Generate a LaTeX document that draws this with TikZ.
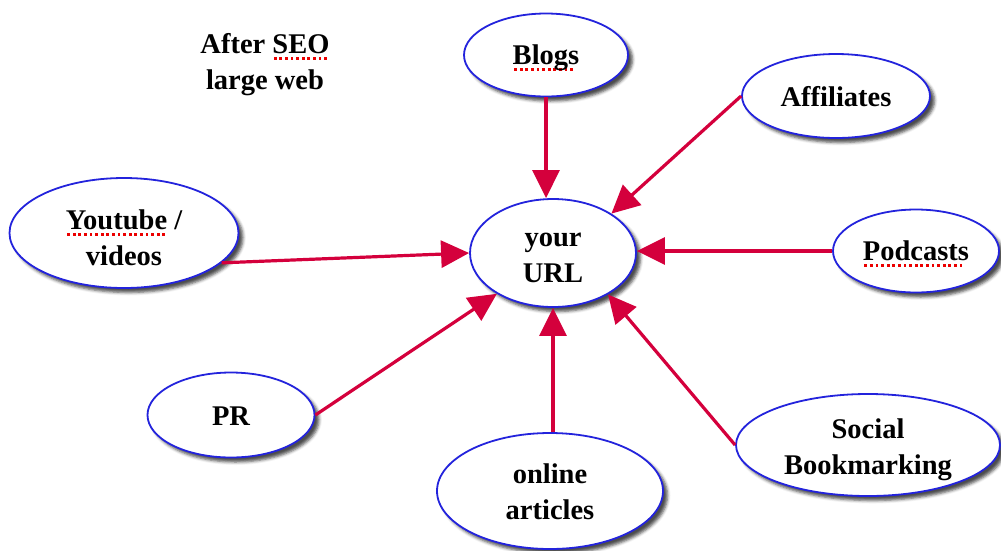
\documentclass[tikz,border=0pt]{standalone}
\usepackage{fontspec}
\setmainfont{Liberation Serif}
\usetikzlibrary{shapes.geometric,arrows.meta,shadows.blur}

\definecolor{rimblue}{RGB}{35,35,220}
\definecolor{linkred}{RGB}{212,0,60}
\definecolor{spellred}{RGB}{235,0,0}

% red dotted "spell check" underline beneath a word
\newcommand\spellmark[1]{\setbox0=\hbox{#1}\leavevmode
  \rlap{\raisebox{-6pt}{\textcolor{spellred}{\hbox to\wd0{\leaders\hbox to 5.6pt{\hss\vrule width 2.8pt height 2.8pt\hss}\hfill}}}}\box0\relax}

\begin{document}
\begin{tikzpicture}[x=1pt,y=-1pt,
  caption/.style={font=\bfseries\fontsize{28.5}{36}\selectfont, align=center, inner sep=0pt},
  bubble/.style={ellipse, draw=rimblue, line width=1.8pt, fill=white, inner sep=0pt,
    blur shadow={shadow xshift=4.5pt, shadow yshift=-4.5pt, shadow blur radius=3pt, shadow opacity=70}},
  link/.style={draw=linkred, line width=3.2pt, -{Triangle[length=28pt,width=27pt]}}
]
\useasboundingbox (0,0) rectangle (1001,550);

\node[caption] (title) at (265,65) {After \spellmark{SEO}\\large web};

% the bubbles
\node[bubble, minimum width=164pt, minimum height=83pt]  (blogs) at (546,55)  {};
\node[bubble, minimum width=188pt, minimum height=84pt]  (aff)   at (836,96)  {};
\node[bubble, minimum width=166pt, minimum height=108pt] (url)   at (553,253) {};
\node[bubble, minimum width=229pt, minimum height=110pt] (yt)    at (124,233) {};
\node[bubble, minimum width=166pt, minimum height=83pt]  (pod)   at (916,251) {};
\node[bubble, minimum width=167pt, minimum height=85pt]  (pr)    at (231,415) {};
\node[bubble, minimum width=226pt, minimum height=116pt] (art)   at (550,491) {};
\node[bubble, minimum width=264pt, minimum height=102pt] (soc)   at (868,445) {};

% their captions
\node[caption, yshift=-3pt] (blogs-t) at (blogs) {\spellmark{Blogs}};
\node[caption, yshift=-1pt] (aff-t)   at (aff)   {Affiliates};
\node[caption, yshift=-5pt] (url-t)   at (url)   {your\\URL};
\node[caption, yshift=-5pt] (yt-t)    at (yt)    {\spellmark{Youtube} /\\videos};
\node[caption, yshift=-3pt] (pod-t)   at (pod)   {\spellmark{Podcasts}};
\node[caption, yshift=-1pt] (pr-t)    at (pr)    {PR};
\node[caption, yshift=-1pt] (art-t)   at (art)   {online\\articles};
\node[caption, yshift=-5pt] (soc-t)   at (soc)   {Social\\Bookmarking};

% links into the centre
\draw[link] (blogs.south) -- (blogs.south |- url.north);
\draw[link] (aff.west) -- (url.34);
\draw[link] (pod.west) -- (pod.west -| url.east);
\draw[link] (soc.west) -- (url.-37);
\draw[link] (art.north -| url.south) -- (url.south);
\draw[link] (pr.east) -- (url.216);
\draw[link] (yt.-17) -- (url.west);
\end{tikzpicture}
\end{document}
